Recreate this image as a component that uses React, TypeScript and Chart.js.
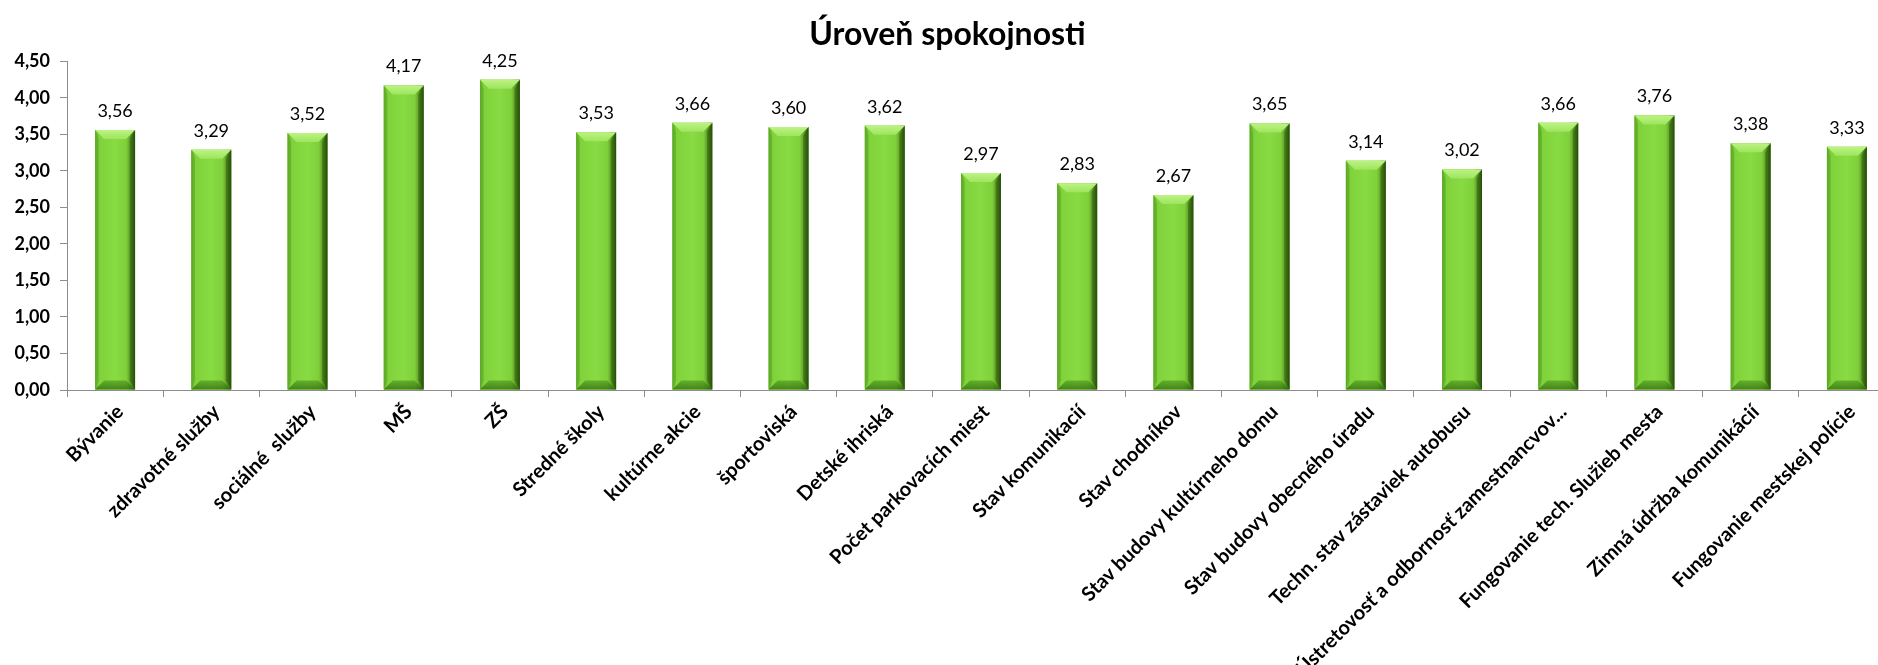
import React, { useEffect, useRef } from "react";
import { Chart, registerables } from "chart.js";

Chart.register(...registerables);

const titleText = "Úroveň spokojnosti";

const categories = [
  "Bývanie",
  "zdravotné služby",
  "sociálné  služby",
  "MŠ",
  "ZŠ",
  "Stredné školy",
  "kultúrne akcie",
  "športoviská",
  "Detské ihriská",
  "Počet parkovacích miest",
  "Stav komunikacií",
  "Stav chodníkov",
  "Stav budovy kultúrneho domu",
  "Stav budovy obecného úradu",
  "Techn. stav zástaviek autobusu",
  "Ústretovosť a odbornosť zamestnancvov...",
  "Fungovanie tech. Služieb mesta",
  "Zimná údržba komunikácií",
  "Fungovanie mestskej polície",
];

const values = [
  3.56, 3.29, 3.52, 4.17, 4.25, 3.53, 3.66, 3.6, 3.62, 2.97, 2.83, 2.67, 3.65,
  3.14, 3.02, 3.66, 3.76, 3.38, 3.33,
];

const yMin = 0;
const yMax = 4.5;
const yStep = 0.5;

const FONT = "Lato, 'Open Sans', sans-serif";
const AXIS_GRAY = "#8c8c8c";

const fmt = (v: number) => v.toFixed(2).replace(".", ",");

const bevelPlugin = {
  id: "bevelBars",
  afterDatasetsDraw(chart: any) {
    const ctx = chart.ctx as CanvasRenderingContext2D;
    const meta = chart.getDatasetMeta(0);
    ctx.save();
    meta.data.forEach((el: any) => {
      const { x, y, base, width } = el.getProps(["x", "y", "base", "width"], true);
      const left = x - width / 2;
      const right = x + width / 2;
      const top = Math.min(y, base);
      const bottom = Math.max(y, base);
      const w = right - left;
      const h = bottom - top;
      const b = Math.min(9, h / 2, w / 4);

      const g = ctx.createLinearGradient(left, 0, right, 0);
      g.addColorStop(0, "#62b027");
      g.addColorStop(0.1, "#80d23b");
      g.addColorStop(0.5, "#88db42");
      g.addColorStop(0.78, "#7fcf3a");
      g.addColorStop(0.88, "#5e9f25");
      g.addColorStop(1, "#2c590c");
      ctx.fillStyle = g;
      ctx.fillRect(left, top, w, h);

      // top bevel
      const gt = ctx.createLinearGradient(0, top, 0, top + b);
      gt.addColorStop(0, "#bdf383");
      gt.addColorStop(1, "#9de55f");
      ctx.beginPath();
      ctx.moveTo(left, top);
      ctx.lineTo(right, top);
      ctx.lineTo(right - b, top + b);
      ctx.lineTo(left + b, top + b);
      ctx.closePath();
      ctx.fillStyle = gt;
      ctx.fill();

      // right bevel
      ctx.beginPath();
      ctx.moveTo(right, top);
      ctx.lineTo(right, bottom);
      ctx.lineTo(right - b * 0.6, bottom - b);
      ctx.lineTo(right - b * 0.6, top + b);
      ctx.closePath();
      ctx.fillStyle = "rgba(25,60,5,0.35)";
      ctx.fill();

      // bottom bevel
      const gb = ctx.createLinearGradient(0, bottom - b, 0, bottom);
      gb.addColorStop(0, "rgba(70,140,25,0.55)");
      gb.addColorStop(1, "rgba(50,110,15,0.8)");
      ctx.beginPath();
      ctx.moveTo(left, bottom);
      ctx.lineTo(right, bottom);
      ctx.lineTo(right - b, bottom - b);
      ctx.lineTo(left + b, bottom - b);
      ctx.closePath();
      ctx.fillStyle = gb;
      ctx.fill();

      // left highlight
      ctx.beginPath();
      ctx.moveTo(left, top);
      ctx.lineTo(left + b * 0.4, top + b);
      ctx.lineTo(left + b * 0.4, bottom - b);
      ctx.lineTo(left, bottom);
      ctx.closePath();
      ctx.fillStyle = "rgba(90,160,40,0.5)";
      ctx.fill();
    });

    // data labels
    ctx.fillStyle = "#000";
    ctx.font = `18px ${FONT}`;
    ctx.textAlign = "center";
    ctx.textBaseline = "alphabetic";
    const ds = chart.data.datasets[0];
    meta.data.forEach((el: any, i: number) => {
      const { x, y } = el.getProps(["x", "y"], true);
      ctx.fillText(fmt(ds.data[i] as number), x, y - 13);
    });
    ctx.restore();
  },
};

export default function App() {
  const canvasRef = useRef<HTMLCanvasElement | null>(null);

  useEffect(() => {
    if (!canvasRef.current) return;
    const chart = new Chart(canvasRef.current, {
      type: "bar",
      data: {
        labels: categories,
        datasets: [
          {
            data: values,
            backgroundColor: "#84d83e",
            borderWidth: 0,
            barPercentage: 0.415,
            categoryPercentage: 1,
          },
        ],
      },
      options: {
        responsive: false,
        animation: false,
        devicePixelRatio: 1,
        layout: { padding: { left: 0, right: 47, top: 0, bottom: 0 } },
        plugins: {
          legend: { display: false },
          tooltip: { enabled: false },
          title: {
            display: true,
            text: titleText,
            color: "#000",
            font: { family: FONT, size: 32, weight: "bold" },
            padding: { top: 15, bottom: 8 },
          },
        },
        scales: {
          x: {
            grid: {
              display: true,
              drawOnChartArea: false,
              drawTicks: true,
              tickLength: 7,
              color: AXIS_GRAY,
              offset: true,
            },
            border: { display: true, color: AXIS_GRAY, width: 1 },
            ticks: {
              autoSkip: false,
              maxRotation: 45,
              minRotation: 45,
              padding: 3,
              labelOffset: 5,
              color: "#000",
              font: { family: FONT, size: 20, weight: "bold" },
            },
            afterFit: (scale: any) => {
              scale.height = 275;
            },
          },
          y: {
            min: yMin,
            max: yMax,
            grid: {
              display: true,
              drawOnChartArea: false,
              drawTicks: true,
              tickLength: 7,
              color: AXIS_GRAY,
            },
            border: { display: true, color: AXIS_GRAY, width: 1 },
            ticks: {
              stepSize: yStep,
              padding: 10,
              color: "#000",
              font: { family: FONT, size: 18, weight: "bold" },
              callback: (v: any) => fmt(Number(v)),
            },
            afterFit: (scale: any) => {
              scale.width = 67;
            },
          },
        },
      },
      plugins: [bevelPlugin],
    });
    return () => chart.destroy();
  }, []);

  return (
    <div
      style={{
        position: "fixed",
        left: 0,
        top: 0,
        width: 1878,
        height: 665,
        overflow: "hidden",
        background: "#fff",
      }}
    >
      <canvas ref={canvasRef} width={1942} height={665} style={{ display: "block" }} />
    </div>
  );
}
